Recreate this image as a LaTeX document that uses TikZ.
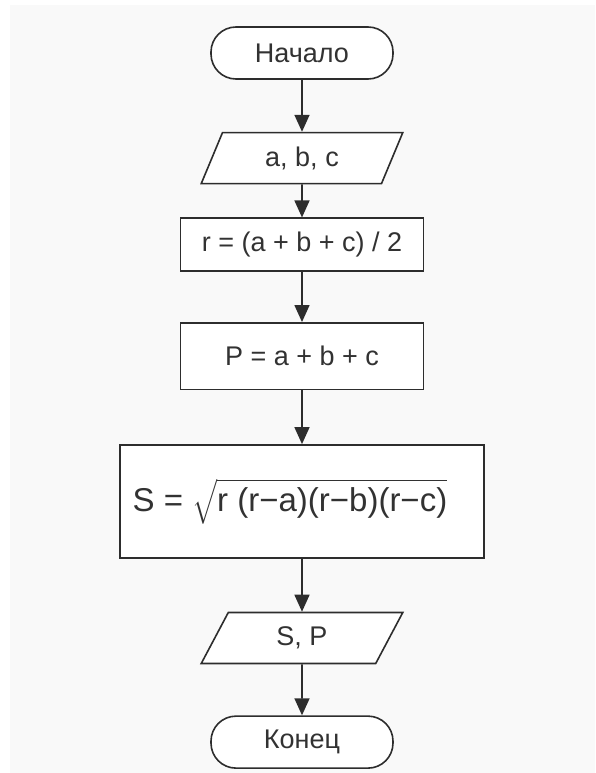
\documentclass[tikz,border=0pt]{standalone}
\usepackage{amsmath}
\usepackage{exscale}
\usepackage{fontspec}
\setmainfont{Liberation Sans}
\usetikzlibrary{positioning,arrows.meta,shapes.geometric}
\definecolor{flowgray}{RGB}{45,45,45}
\definecolor{flowtext}{RGB}{50,50,50}
\definecolor{flowpanel}{RGB}{249,249,249}

\begin{document}
\begin{tikzpicture}[x=1pt, y=1pt,
    box/.style={draw=flowgray, line width=1.6pt, fill=white, text=flowtext, align=center, inner sep=2pt, font=\fontsize{27}{32}\selectfont},
    terminal/.style={box, rectangle, rounded corners=25pt, minimum width=182pt, minimum height=52pt},
    io/.style={box, trapezium, trapezium left angle=69, trapezium right angle=111, trapezium stretches=true, minimum width=203pt, minimum height=51pt},
    process/.style={box, rectangle, minimum width=243pt, minimum height=53pt},
    flow/.style={-{Triangle[length=17pt, width=15pt]}, line width=1.6pt, draw=flowgray}
  ]
    \useasboundingbox (0,0) rectangle (595,-773);
    \fill[flowpanel] (10,-5) rectangle (595,-773);

    \node[terminal] (start) at (302,-53) {Начало};
    \node[io, below=52pt of start] (input) {a, b, c};
    \node[process, below=33pt of input] (half) {r = (a + b + c) / 2};
    \node[process, below=50pt of half, minimum height=66.5pt] (perim) {P = a + b + c};
    \node[process, below=54pt of perim, minimum width=364pt, minimum height=113pt, font=\fontsize{33}{40}\selectfont] (area)
      {S = $\sqrt{\text{r (r−a)(r−b)(r−c)}}$\hspace*{24pt}};
    \node[io, below=53pt of area] (output) {S, P};
    \node[terminal, below=51pt of output] (stop) {Конец};

    \draw[flow] (start) -- (input);
    \draw[flow] (input) -- (half);
    \draw[flow] (half) -- (perim);
    \draw[flow] (perim) -- (area);
    \draw[flow] (area) -- (output);
    \draw[flow] (output) -- (stop);
  \end{tikzpicture}
\end{document}
